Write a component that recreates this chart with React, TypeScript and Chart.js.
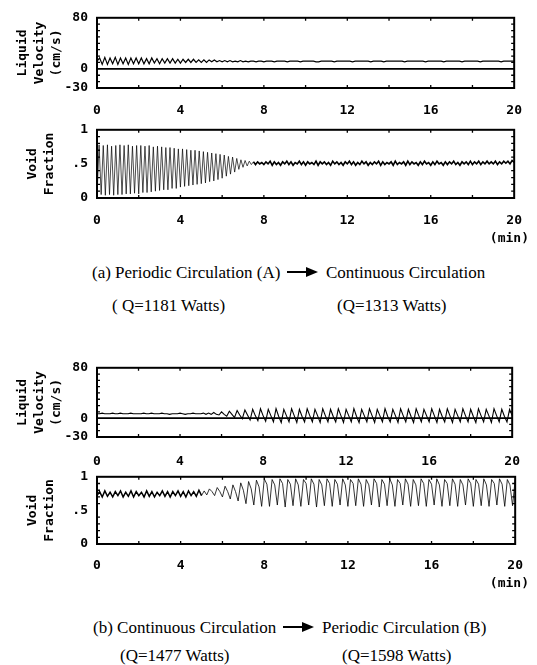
import React, { useEffect, useRef } from 'react';
import { Chart, registerables } from 'chart.js';

Chart.register(...registerables);

// ---------- data ----------
const X_TICKS = [0, 4, 8, 12, 16, 20];
const X_EDGE_TICKS = [2, 4, 6, 8, 10, 12, 14, 16, 18];

const VEL_Y_TICKS = [-30, 0, 80];
const VEL_Y_LABELS = ['-30', '0', '80'];
const VEL_EDGE_TICKS = [-20, -10, 10, 20, 30, 40, 50, 60, 70];

const VOID_Y_TICKS = [0, 0.5, 1];
const VOID_Y_LABELS = ['0', '.5', '1'];
const VOID_EDGE_TICKS = [0.1, 0.2, 0.3, 0.4, 0.6, 0.7, 0.8, 0.9];

const ZERO_T = [0, 20];
const ZERO_V = [0, 0];

// (a) liquid velocity, sampled every 0.125 min
const STEP_VEL_A = 0.125;
const VEL_A = [
  12, 17, 7, 18, 7, 17, 8, 18, 7, 17,
  8, 17, 7, 17, 8, 17, 8, 17, 8, 16,
  8, 17, 9, 16, 8, 16, 9, 16, 9, 16,
  9, 15, 9, 15, 10, 15, 10, 15, 10, 14,
  10, 14, 10, 14, 11, 14, 11, 13, 11, 13,
  11, 13, 11, 12, 11, 13, 11, 12, 11, 12,
  12, 11, 12, 12, 11, 12, 12, 12, 11, 12,
  12, 12, 12, 11, 12, 12, 12, 12, 11, 12,
  12, 12, 12, 12, 11, 11, 12, 12, 12, 12,
  12, 11, 12, 12, 12, 12, 12, 12, 11, 12,
  12, 12, 12, 12, 12, 11, 12, 12, 12, 12,
  11, 12, 12, 12, 12, 12, 12, 12, 11, 12,
  12, 12, 12, 12, 12, 12, 11, 12, 12, 12,
  12, 12, 12, 11, 12, 12, 12, 12, 12, 12,
  11, 12, 12, 12, 12, 12, 12, 11, 12, 12,
  12, 12, 12, 12, 12, 11, 12, 12, 12, 12,
  12,
];

// (a) void fraction, sampled every 0.1 min
const STEP_VOID_A = 0.1;
const VOID_A = [
  0.02, 0.78, 0.05, 0.77, 0.04, 0.78, 0.05, 0.76, 0.04, 0.77,
  0.05, 0.78, 0.05, 0.77, 0.06, 0.78, 0.06, 0.76, 0.07, 0.77,
  0.06, 0.77, 0.08, 0.76, 0.08, 0.77, 0.09, 0.75, 0.10, 0.76,
  0.11, 0.75, 0.12, 0.74, 0.12, 0.74, 0.14, 0.73, 0.14, 0.72,
  0.16, 0.72, 0.17, 0.71, 0.18, 0.70, 0.19, 0.70, 0.20, 0.69,
  0.21, 0.68, 0.22, 0.67, 0.24, 0.66, 0.25, 0.65, 0.27, 0.64,
  0.29, 0.63, 0.32, 0.61, 0.35, 0.60, 0.38, 0.58, 0.42, 0.56,
  0.45, 0.55, 0.47, 0.54, 0.49, 0.53, 0.49, 0.53, 0.50, 0.52,
  0.49, 0.53, 0.50, 0.54, 0.48, 0.53, 0.49, 0.52, 0.48, 0.53,
  0.50, 0.54, 0.49, 0.53, 0.48, 0.52, 0.50, 0.54, 0.49, 0.53,
  0.48, 0.53, 0.50, 0.52, 0.49, 0.54, 0.48, 0.53, 0.50, 0.53,
  0.49, 0.52, 0.48, 0.54, 0.50, 0.53, 0.49, 0.52, 0.48, 0.53,
  0.50, 0.54, 0.49, 0.53, 0.48, 0.52, 0.49, 0.54, 0.50, 0.53,
  0.48, 0.52, 0.49, 0.53, 0.50, 0.54, 0.48, 0.53, 0.49, 0.52,
  0.50, 0.53, 0.48, 0.54, 0.49, 0.52, 0.50, 0.53, 0.48, 0.54,
  0.49, 0.53, 0.50, 0.52, 0.48, 0.53, 0.49, 0.54, 0.50, 0.52,
  0.48, 0.53, 0.49, 0.54, 0.50, 0.52, 0.48, 0.53, 0.49, 0.53,
  0.50, 0.54, 0.49, 0.52, 0.48, 0.53, 0.50, 0.53, 0.49, 0.54,
  0.49, 0.53, 0.50, 0.54, 0.49, 0.53, 0.50, 0.54, 0.50, 0.53,
  0.50, 0.54, 0.49, 0.53, 0.50, 0.54, 0.51, 0.54, 0.50, 0.55,
  0.52,
];

// (b) liquid velocity, sampled every 0.125 min
const STEP_VEL_B = 0.125;
const VEL_B = [
  7, 7, 8, 7, 7, 7, 8, 7, 7, 8,
  7, 7, 7, 8, 7, 7, 7, 7, 8, 7,
  7, 8, 7, 7, 7, 8, 7, 7, 6, 7,
  7, 7, 8, 7, 6, 7, 7, 8, 7, 7,
  7, 8, 6, 8, 6, 9, 6, 5, 10, 6,
  3, 11, 6, 1, 12, 5, -1, 13, 5, -3,
  14, 4, -4, 15, 4, -5,
  14, 4, -6, 15, 3, -7, 14, 4, -6,
  15, 4, -7, 14, 3, -6, 15, 4, -6,
  14, 4, -7, 15, 4, -6, 14, 3, -6,
  15, 4, -7, 14, 4, -6, 15, 3, -7,
  14, 4, -6, 15, 4, -7, 14, 4, -6,
  15, 3, -6, 14, 4, -7, 15, 4, -6,
  14, 3, -7, 15, 4, -6, 14, 4, -6,
  15, 4, -7, 14, 3, -6, 15, 4, -7,
  14, 4, -6, 15, 4, -6, 14, 3, -7,
  15, 4, -6, 14, 4, -7, 15, 4, -6,
  14, 3, -6,
  14, 4,
];

// (b) void fraction, sampled every 0.125 min
const STEP_VOID_B = 0.125;
const VOID_B = [
  0.72, 0.78, 0.70, 0.79, 0.71, 0.77, 0.70, 0.78, 0.72, 0.79,
  0.70, 0.77, 0.71, 0.79, 0.70, 0.78, 0.72, 0.77, 0.70, 0.79,
  0.71, 0.78, 0.70, 0.77, 0.72, 0.79, 0.71, 0.78, 0.70, 0.78,
  0.72, 0.79, 0.71, 0.78, 0.70, 0.79, 0.72, 0.78, 0.71, 0.80,
  0.72, 0.79, 0.73, 0.82, 0.78, 0.72, 0.84, 0.78, 0.70, 0.86,
  0.78, 0.67, 0.88, 0.78, 0.64, 0.91, 0.80, 0.60, 0.93, 0.82,
  0.58, 0.95, 0.85, 0.56,
  0.97, 0.89, 0.56, 0.96, 0.88, 0.58, 0.97, 0.90, 0.55,
  0.96, 0.89, 0.57, 0.97, 0.88, 0.56, 0.96, 0.90, 0.58,
  0.97, 0.89, 0.55, 0.96, 0.88, 0.57, 0.97, 0.90, 0.56,
  0.96, 0.89, 0.58, 0.97, 0.88, 0.56, 0.96, 0.90, 0.57,
  0.97, 0.89, 0.56, 0.96, 0.88, 0.58, 0.97, 0.90, 0.55,
  0.96, 0.89, 0.57, 0.97, 0.88, 0.56, 0.96, 0.90, 0.58,
  0.97, 0.89, 0.56, 0.96, 0.88, 0.57, 0.97, 0.90, 0.56,
  0.96, 0.89, 0.58, 0.97, 0.88, 0.56, 0.96, 0.90, 0.57,
  0.97, 0.89, 0.56, 0.96, 0.88, 0.58, 0.97, 0.90, 0.56,
  0.96, 0.89, 0.57, 0.97, 0.88, 0.56, 0.96, 0.90, 0.58,
  0.97, 0.89, 0.56, 0.96, 0.88, 0.57,
  0.96,
];

// ---------- helpers ----------
const MONO = '"DejaVu Sans Mono", monospace';
const SERIF = '"Liberation Serif", "Times New Roman", serif';

const toPoints = (vals: number[], step: number) => vals.map((v, i) => ({ x: i * step, y: v }));
const toXY = (xs: number[], ys: number[]) => xs.map((x, i) => ({ x, y: ys[i] }));

const framePlugin = {
  id: 'frame',
  afterDatasetsDraw(chart: any, _args: any, opts: any) {
    const { ctx, chartArea, scales } = chart;
    const { left, right, top, bottom } = chartArea;
    ctx.save();
    ctx.strokeStyle = '#000';
    ctx.lineWidth = 2;
    ctx.strokeRect(left, top, right - left, bottom - top);
    ctx.lineWidth = 1.3;
    ctx.beginPath();
    for (const v of opts.xEdge || []) {
      const x = scales.x.getPixelForValue(v);
      ctx.moveTo(x, top); ctx.lineTo(x, top + 3);
      ctx.moveTo(x, bottom); ctx.lineTo(x, bottom - 3);
    }
    for (const v of opts.yEdge || []) {
      const y = scales.y.getPixelForValue(v);
      ctx.moveTo(left, y); ctx.lineTo(left + 3, y);
      ctx.moveTo(right, y); ctx.lineTo(right - 3, y);
    }
    ctx.stroke();
    ctx.restore();
  },
};

type PanelProps = {
  top: number;
  boxH: number;
  padLeft: number;
  xPad: number;
  yMin: number;
  yMax: number;
  yTicks: number[];
  yLabels: string[];
  yEdge: number[];
  title: string[];
  datasets: any[];
};

const PAD_TOP = 10;
const X_AXIS_H = 32;
const PLOT_LEFT = 97;
const PLOT_RIGHT = 517;
const W = 537;

function Panel(p: PanelProps) {
  const ref = useRef<HTMLCanvasElement | null>(null);
  const h = PAD_TOP + p.boxH + X_AXIS_H;
  useEffect(() => {
    if (!ref.current) return;
    const tickFont = { family: MONO, size: 13, weight: 'bold' as const };
    const chart = new Chart(ref.current, {
      type: 'line',
      data: { datasets: p.datasets },
      plugins: [framePlugin],
      options: {
        animation: false,
        responsive: false,
        events: [],
        layout: { padding: { left: p.padLeft, right: W - PLOT_RIGHT, top: PAD_TOP, bottom: 0 } },
        plugins: {
          legend: { display: false },
          tooltip: { enabled: false },
          frame: { xEdge: X_EDGE_TICKS, yEdge: p.yEdge },
        } as any,
        elements: { point: { radius: 0 }, line: { tension: 0 } },
        scales: {
          x: {
            type: 'linear',
            min: 0,
            max: 20,
            grid: { display: false, drawTicks: false },
            border: { display: false },
            afterBuildTicks: (s: any) => { s.ticks = X_TICKS.map((v) => ({ value: v })); },
            afterFit: (s: any) => { s.height = X_AXIS_H; },
            ticks: {
              color: '#000',
              font: tickFont,
              padding: p.xPad,
              maxRotation: 0,
              autoSkip: false,
              callback: (v: any) => String(v),
            },
          },
          y: {
            type: 'linear',
            min: p.yMin,
            max: p.yMax,
            grid: { display: false, drawTicks: false },
            border: { display: false },
            afterBuildTicks: (s: any) => { s.ticks = p.yTicks.map((v) => ({ value: v })); },
            afterFit: (s: any) => { s.width = PLOT_LEFT - p.padLeft; },
            ticks: {
              color: '#000',
              font: tickFont,
              padding: 9,
              autoSkip: false,
              callback: (_v: any, i: number) => p.yLabels[i],
            },
            title: {
              display: true,
              text: p.title,
              color: '#000',
              font: { family: MONO, size: 13, weight: 'bold', lineHeight: 1.3 },
              padding: { top: 0, bottom: 0 },
            },
          },
        },
      } as any,
    });
    return () => chart.destroy();
  }, []);
  return (
    <canvas
      ref={ref}
      width={W}
      height={h}
      style={{ position: 'absolute', left: 0, top: p.top - PAD_TOP, width: W, height: h }}
    />
  );
}

const signal = (data: any[], width: number, widthFn?: (x: number) => number) => ({
  data,
  borderColor: '#000',
  borderWidth: width,
  pointRadius: 0,
  fill: false,
  ...(widthFn ? { segment: { borderWidth: (c: any) => widthFn(c.p0.parsed.x) } } : {}),
});

function Arrow({ left, top }: { left: number; top: number }) {
  return (
    <div style={{ position: 'absolute', left, top: top - 5, width: 32, height: 10 }}>
      <div style={{ position: 'absolute', left: 0, top: 4, width: 20, height: 2, background: '#000' }} />
      <div
        style={{
          position: 'absolute', left: 19, top: 0, width: 0, height: 0,
          borderTop: '5px solid transparent', borderBottom: '5px solid transparent', borderLeft: '12px solid #000',
        }}
      />
    </div>
  );
}

const CAP = 17;

function Txt({ left, top, children }: { left: number; top: number; children: any }) {
  return (
    <div
      style={{
        position: 'absolute', left, top: top - CAP / 2, fontFamily: SERIF, fontSize: CAP,
        lineHeight: `${CAP}px`, whiteSpace: 'nowrap', color: '#000',
      }}
    >
      {children}
    </div>
  );
}

function MinLabel({ top }: { top: number }) {
  return (
    <div
      style={{
        position: 'absolute', right: W - 529, top: top - 7, fontFamily: MONO, fontWeight: 'bold',
        fontSize: 13, lineHeight: '14px', color: '#000', whiteSpace: 'nowrap',
      }}
    >
      (min)
    </div>
  );
}

export default function App() {
  const velTitle = ['Liquid', 'Velocity', '(cm/s)'];
  const voidTitle = ['Void', 'Fraction'];
  return (
    <div style={{ position: 'absolute', left: 0, top: 0, width: W, height: 665, background: '#fff', overflow: 'hidden' }}>
      <Panel
        top={11} boxH={77} padLeft={14} xPad={15}
        yMin={-30} yMax={80} yTicks={VEL_Y_TICKS} yLabels={VEL_Y_LABELS} yEdge={VEL_EDGE_TICKS}
        title={velTitle}
        datasets={[signal(toXY(ZERO_T, ZERO_V), 1.6), signal(toPoints(VEL_A, STEP_VEL_A), 1.2)]}
      />
      <Panel
        top={123} boxH={75} padLeft={24} xPad={15}
        yMin={0} yMax={1} yTicks={VOID_Y_TICKS} yLabels={VOID_Y_LABELS} yEdge={VOID_EDGE_TICKS}
        title={voidTitle}
        datasets={[signal(toPoints(VOID_A, STEP_VOID_A), 0.7, (x) => (x >= 7.5 ? 1.6 : 0.7))]}
      />
      <MinLabel top={238} />
      <Txt left={92} top={272}>(a) Periodic Circulation (A)</Txt>
      <Arrow left={287} top={272} />
      <Txt left={326} top={272}>Continuous Circulation</Txt>
      <Txt left={112} top={305}>( Q=1181 Watts)</Txt>
      <Txt left={337} top={305}>(Q=1313 Watts)</Txt>

      <Panel
        top={361} boxH={76} padLeft={14} xPad={17}
        yMin={-30} yMax={80} yTicks={VEL_Y_TICKS} yLabels={VEL_Y_LABELS} yEdge={VEL_EDGE_TICKS}
        title={velTitle}
        datasets={[signal(toXY(ZERO_T, ZERO_V), 1.6), signal(toPoints(VEL_B, STEP_VEL_B), 1.1)]}
      />
      <Panel
        top={470} boxH={74} padLeft={24} xPad={14}
        yMin={0} yMax={1} yTicks={VOID_Y_TICKS} yLabels={VOID_Y_LABELS} yEdge={VOID_EDGE_TICKS}
        title={voidTitle}
        datasets={[signal(toPoints(VOID_B, STEP_VOID_B), 0.8, (x) => (x < 5 ? 1.5 : 0.8))]}
      />
      <MinLabel top={583} />
      <Txt left={93} top={627}>(b) Continuous Circulation</Txt>
      <Arrow left={283} top={627} />
      <Txt left={322} top={627}>Periodic Circulation (B)</Txt>
      <Txt left={120} top={655}>(Q=1477 Watts)</Txt>
      <Txt left={342} top={655}>(Q=1598 Watts)</Txt>
    </div>
  );
}
